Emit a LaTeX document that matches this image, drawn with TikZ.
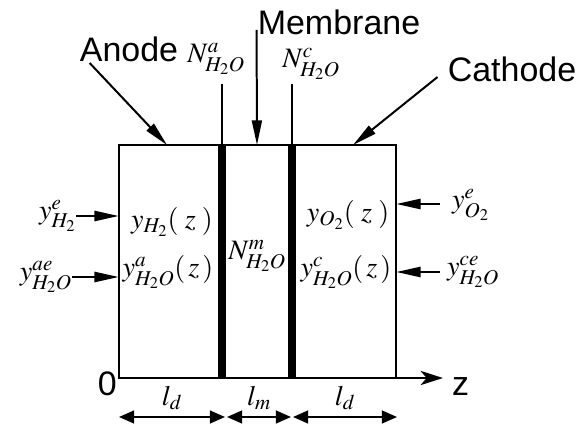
\documentclass[tikz,border=0pt]{standalone}
\usepackage{mathptmx}
\usepackage[no-math]{fontspec}
\setmainfont{Liberation Serif}
\newfontfamily\labelfont{Liberation Sans}
\usetikzlibrary{arrows.meta,calc,positioning}
\DeclareMathSizes{24}{24}{18}{14}
\tikzset{
  every node/.style={inner sep=0pt},
  word/.style={font=\labelfont\fontsize{29}{31}\selectfont},
  sym/.style={font=\fontsize{24}{27}\selectfont},
  wall/.style={line width=1.7pt},
  lead/.style={line width=1.2pt},
  pointer/.style={-{Triangle[length=21pt,width=8.5pt]},line width=1.7pt},
  feed/.style={-{Triangle[length=21pt,width=8.5pt]},line width=2.3pt},
  span/.style={{Triangle[length=13pt,width=11pt]}-{Triangle[length=13pt,width=11pt]},line width=1.7pt},
  axis/.style={-{Stealth[length=19pt,width=12pt,inset=5pt]},line width=2.3pt},
}
\begin{document}
\begin{tikzpicture}[x=0.03cm,y=-0.03cm]
\path[use as bounding box,fill=white] (0,0) rectangle (583,425);
% cell outline and the two membrane faces
\coordinate (nw) at (119,145);
\coordinate (sw) at (119,378);
\coordinate (ne) at (396,145);
\coordinate (faceA) at (222,145);
\coordinate (faceC) at (292,145);
\draw[wall] (nw) rectangle (396,378);
\fill (218,145) rectangle (226,378);
\fill (288,145) rectangle (296,378);
% region names
\node[word,anchor=base] (anode) at (129,62) {Anode};
\node[word,anchor=base] (membrane) at (339,35) {Membrane};
\node[word,anchor=base] (cathode) at (512,82) {Cathode};
\coordinate (anodetip) at (167,145);
\coordinate (membranetip) at (257,145);
\coordinate (cathodetip) at (353,145);
\draw[pointer] ($(anode.base west)+(10,1)$) -- (anodetip);
\draw[pointer] ($(membrane.base west)+(-1,-5)$) -- (membranetip);
\draw[pointer] ($(cathode.base west)+(-10,-5)$) -- (cathodetip);
% water fluxes at the faces
\node[sym] (fluxa) at (216,59) {$N^{a}_{H_2O}$};
\node[sym] (fluxc) at (311,64) {$N^{c}_{H_2O}$};
\node[sym] (fluxm) at (257,256) {$N^{m}_{H_2O}$};
\draw[lead] (faceA) -- ++(0,-61);
\draw[lead] (faceC) -- ++(0,-61);
% anode side
\node[sym,anchor=east] (feedh) at (76,216) {$y^{e}_{H_2}$};
\node[sym,anchor=east] (feedaw) at (72,277) {$y^{ae}_{H_2O}$};
\draw[feed] (feedh.east) -- (feedh.east -| sw);
\draw[feed] (feedaw.east) -- (feedaw.east -| sw);
\node[sym] (molh) at (172,222) {$y_{H_2}(\;z\;)$};
\node[sym] (molaw) at (168,272) {$y^{a}_{H_2O}(\,z\,)$};
% cathode side
\node[sym,anchor=west] (feedo) at (452,205) {$y^{e}_{O_2}$};
\node[sym,anchor=west] (feedcw) at (447,272) {$y^{ce}_{H_2O}$};
\draw[feed] ($(feedo.west)+(-12,-1)$) -- ($(feedo.west -| ne)+(0,-1)$);
\draw[feed] ($(feedcw.west)+(-7,0)$) -- (feedcw.west -| ne);
\node[sym] (molo) at (348,215) {$y_{O_2}(\;z\;)$};
\node[sym] (molcw) at (346,272) {$y^{c}_{H_2O}(\,z\,)$};
% axis and thicknesses
\node[word,anchor=base east] (origin) at (117,395) {0};
\node[word,anchor=base west] (zlabel) at (452,395) {z};
\coordinate (axisend) at (443,378);
\draw[axis] (sw) -- (axisend);
\coordinate (d0) at (119,417);
\coordinate (d1) at (225,417);
\coordinate (d2) at (227,417);
\coordinate (d3) at (291,417);
\coordinate (d4) at (293,417);
\coordinate (d5) at (397,417);
\draw[span] (d0) -- (d1) node[sym,midway,above=5pt] (lda) {$l_d$};
\draw[span] (d2) -- (d3) node[sym,midway,above=5pt] (lm) {$l_m$};
\draw[span] (d4) -- (d5) node[sym,midway,above=5pt] (ldc) {$l_d$};
\end{tikzpicture}
\end{document}
